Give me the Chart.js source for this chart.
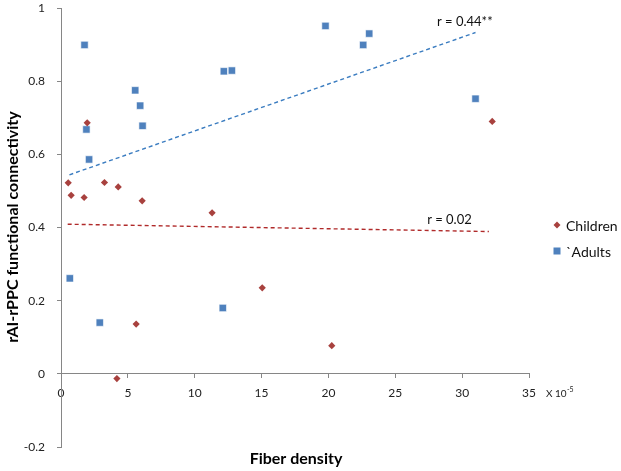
<!DOCTYPE html>
<html>
<head>
<meta charset="utf-8">
<script src="https://cdn.jsdelivr.net/npm/chart.js@4"></script>
<style>
html,body{margin:0;padding:0;background:#fff;}
#wrap{width:621px;height:471px;position:relative;}
</style>
</head>
<body>
<div id="wrap"><canvas id="c" width="621" height="471"></canvas></div>
<script>
// Data
const childrenX = [0.54, 0.76, 1.73, 1.96, 3.25, 4.28, 6.07, 11.3, 32.25, 4.18, 5.62, 15.05, 20.25];
const childrenY = [0.522, 0.488, 0.482, 0.686, 0.523, 0.511, 0.473, 0.44, 0.69, -0.013, 0.136, 0.235, 0.077];
const adultsX = [1.76, 1.9, 2.1, 5.55, 5.92, 6.1, 12.18, 12.78, 19.78, 22.6, 23.05, 31.0, 0.66, 2.9, 12.1];
const adultsY = [0.899, 0.668, 0.586, 0.775, 0.733, 0.678, 0.827, 0.829, 0.951, 0.899, 0.93, 0.752, 0.261, 0.14, 0.18];
const adultsTrendX = [0.63, 31.0];
const adultsTrendY = [0.544, 0.933];
const childrenTrendX = [0.5, 32.0];
const childrenTrendY = [0.409, 0.389];
const xTicks = [0, 5, 10, 15, 20, 25, 30, 35];
const yTicks = [-0.2, 0, 0.2, 0.4, 0.6, 0.8, 1];
const seriesNames = ['Children', '\u0060Adults'];
const corrLabels = ['r = 0.44**', 'r = 0.02'];

const BLUE = '#4F81BD';
const RED = '#A8413E';
const pts = (xs, ys) => xs.map((x, i) => ({x: x, y: ys[i]}));

const overlay = {
  id: 'overlay',
  afterDraw(chart) {
    const ctx = chart.ctx;
    const xs = chart.scales.x, ys = chart.scales.y;
    ctx.save();
    ctx.fillStyle = '#000';
    // axis titles
    ctx.font = 'bold 16px Lato, "Open Sans", sans-serif';
    ctx.textAlign = 'center';
    ctx.textBaseline = 'middle';
    ctx.fillText('Fiber density', 296, 459);
    ctx.save();
    ctx.translate(13, 227);
    ctx.rotate(-Math.PI / 2);
    ctx.fillText('rAI-rPPC functional connectivity', 0, 0);
    ctx.restore();
    // correlation labels
    ctx.font = '13px Lato, "Open Sans", sans-serif';
    ctx.fillStyle = '#111';
    ctx.fillText(corrLabels[0], xs.getPixelForValue(30.2), ys.getPixelForValue(0.963));
    ctx.fillText(corrLabels[1], xs.getPixelForValue(29.05), ys.getPixelForValue(0.422));
    // x exponent label
    ctx.textAlign = 'left';
    ctx.font = '10px Lato, "Open Sans", sans-serif';
    ctx.fillStyle = '#222';
    ctx.fillText('X 10', 546, 394);
    ctx.font = '7px Lato, "Open Sans", sans-serif';
    ctx.fillText('-5', 567, 390);
    // legend
    ctx.font = '14px Lato, "Open Sans", sans-serif';
    ctx.fillStyle = '#111';
    ctx.fillText(seriesNames[0], 566, 226);
    ctx.fillText(seriesNames[1], 566, 252);
    ctx.fillStyle = RED;
    ctx.beginPath();
    ctx.moveTo(557, 221.5); ctx.lineTo(560.5, 225); ctx.lineTo(557, 228.5); ctx.lineTo(553.5, 225);
    ctx.closePath(); ctx.fill();
    ctx.fillStyle = BLUE;
    ctx.fillRect(553.5, 247.5, 7, 7);
    ctx.restore();
  }
};

new Chart(document.getElementById('c'), {
  type: 'scatter',
  data: {
    datasets: [
      {label: seriesNames[0], data: pts(childrenX, childrenY), pointStyle: 'rectRot', pointRadius: 3.6,
       backgroundColor: RED, borderColor: RED, borderWidth: 0, order: 1},
      {label: seriesNames[1], data: pts(adultsX, adultsY), pointStyle: 'rect', pointRadius: 5.2,
       backgroundColor: BLUE, borderColor: '#ffffff', borderWidth: 0.6, order: 1},
      {type: 'line', label: 'Adults trend', data: pts(adultsTrendX, adultsTrendY), showLine: true,
       borderColor: '#3A7CC0', borderWidth: 1.4, borderDash: [4, 3], pointRadius: 0, fill: false, order: 2},
      {type: 'line', label: 'Children trend', data: pts(childrenTrendX, childrenTrendY), showLine: true,
       borderColor: '#B02A2A', borderWidth: 1.4, borderDash: [4, 3], pointRadius: 0, fill: false, order: 2}
    ]
  },
  options: {
    responsive: false,
    animation: false,
    events: [],
    layout: {padding: {left: 0, right: 92, top: 8, bottom: 24}},
    plugins: {legend: {display: false}, tooltip: {enabled: false}},
    scales: {
      x: {
        type: 'linear', min: 0, max: 35,
        position: {y: 0},
        afterFit: s => { s.height = 0; s.paddingLeft = 0; s.paddingRight = 0; },
        afterBuildTicks: s => { s.ticks = xTicks.map(v => ({value: v})); },
        grid: {display: true, drawOnChartArea: false, drawTicks: true, tickLength: 4, color: '#868686'},
        border: {display: true, color: '#868686', width: 1},
        ticks: {color: '#222', padding: 8, maxRotation: 0, font: {family: 'Lato, "Open Sans", sans-serif', size: 12}}
      },
      y: {
        type: 'linear', min: -0.2, max: 1,
        afterFit: s => { s.width = 61; s.paddingTop = 0; s.paddingBottom = 0; },
        afterBuildTicks: s => { s.ticks = yTicks.map(v => ({value: v})); },
        grid: {display: true, drawOnChartArea: false, drawTicks: true, tickLength: 4, color: '#868686'},
        border: {display: true, color: '#868686', width: 1},
        ticks: {color: '#222', padding: 12, font: {family: 'Lato, "Open Sans", sans-serif', size: 12},
                callback: v => String(Math.round(v * 10) / 10)}
      }
    }
  },
  plugins: [overlay]
});
</script>
</body>
</html>
